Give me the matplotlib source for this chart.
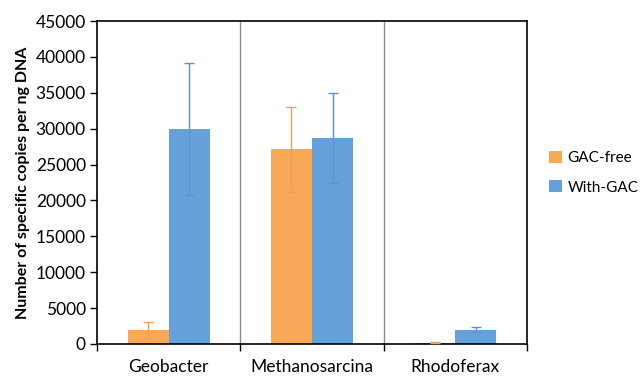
import numpy as np
import matplotlib.pyplot as plt

# Gene copy numbers per ng DNA, mean and error for each reactor
categories = ['Geobacter', 'Methanosarcina', 'Rhodoferax']
gac_free = [2000, 27100, 200]
gac_free_err = [1100, 5950, 80]
with_gac = [29900, 28700, 2000]
with_gac_err = [9200, 6300, 350]

orange = '#F9A856'
blue = '#66A1DC'

plt.rcParams['font.family'] = ['Lato', 'DejaVu Sans']

fig = plt.figure(figsize=(6.43, 3.76), dpi=100)
ax = fig.add_axes([97 / 643, 1 - 344 / 376, 430 / 643, 323 / 376])

x = np.arange(len(categories))
w = 0.287
ax.bar(x - w / 2, gac_free, w, color=orange, label='GAC-free', zorder=2)
ax.bar(x + w / 2, with_gac, w, color=blue, label='With-GAC', zorder=2)
ax.errorbar(x - w / 2, gac_free, yerr=gac_free_err, fmt='none',
            ecolor='#F0A055', elinewidth=1, capsize=3.5, capthick=1, zorder=3)
ax.errorbar(x + w / 2, with_gac, yerr=with_gac_err, fmt='none',
            ecolor='#5B93D0', elinewidth=1, capsize=3.5, capthick=1, zorder=3)

# category separators
for b in [0.5, 1.5]:
    ax.axvline(b, color='#8C8C8C', lw=1, zorder=1)

ax.set_xlim(-0.5, 2.5)
ax.set_ylim(0, 45000)
ax.set_yticks(np.arange(0, 45001, 5000))
ax.set_xticks([-0.5, 0.5, 1.5, 2.5])
ax.set_xticklabels([])
ax.set_xticks(x, minor=True)
ax.set_xticklabels(categories, minor=True, fontsize=12.5)
ax.tick_params(axis='x', which='minor', length=0, pad=11)
ax.tick_params(axis='x', which='major', length=5, width=1)
ax.tick_params(axis='y', length=5, width=1, labelsize=12.5, pad=3)
for s in ax.spines.values():
    s.set_linewidth(1.2)

ax.set_ylabel('Number of specific copies per ng DNA', fontsize=11.5,
              fontweight='bold', labelpad=4)

ax.legend(loc='center left', bbox_to_anchor=(1.02, 0.53), frameon=False,
          fontsize=11, handlelength=0.8, handleheight=0.8, labelspacing=1.0,
          handletextpad=0.4)

fig.savefig('out.png', dpi=100)
